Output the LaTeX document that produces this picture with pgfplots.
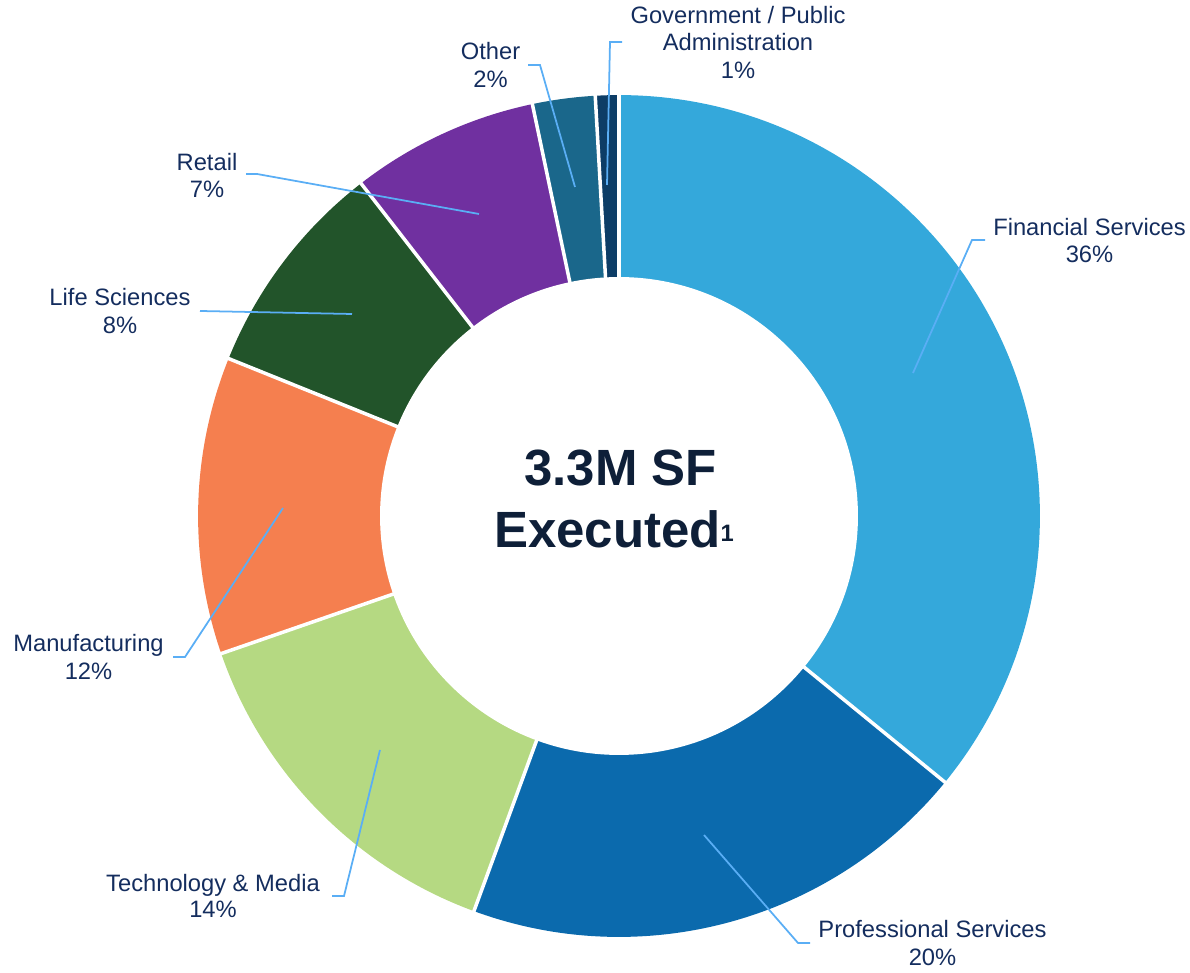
\documentclass[border=0pt]{standalone}
\usepackage{pgfplots}
\pgfplotsset{compat=1.18}
\usepackage{pgfplotstable}
\usepackage{fontspec}
\setmainfont{Liberation Sans}

\definecolor{c0}{HTML}{34A8DB} % Financial Services
\definecolor{c1}{HTML}{0B6AAD} % Professional Services
\definecolor{c2}{HTML}{B5D982} % Technology & Media
\definecolor{c3}{HTML}{F57F4F} % Manufacturing
\definecolor{c4}{HTML}{22542A} % Life Sciences
\definecolor{c5}{HTML}{7030A0} % Retail
\definecolor{c6}{HTML}{1A678B} % Other
\definecolor{c7}{HTML}{0D3D66} % Government / Public Administration
\definecolor{lblcol}{HTML}{142D5E}
\definecolor{ctr}{HTML}{0E1F38}
\definecolor{lead}{HTML}{5AAEF5}

% share of square feet, clockwise from 12 o'clock
\pgfplotstableread[col sep=comma]{
value
35.9
19.7
14.1
11.4
8.4
7.2
2.4
0.9
}\sectors

\def\rOut{8.42cm}
\def\rIn{4.78cm}

\tikzset{
    lbl/.style={font=\fontsize{13.5}{16}\selectfont, text=lblcol, inner sep=0pt, anchor=base},
    ctrtxt/.style={font=\fontsize{29}{35}\selectfont\bfseries, text=ctr, inner sep=0pt, anchor=base},
}

\begin{document}
\begin{tikzpicture}
\begin{axis}[
    x=0.02cm, y=0.02cm,
    xmin=-619, xmax=571,
    ymin=-454, ymax=516,
    hide axis,
    clip=false,
]
\path (axis cs:-619,-454) rectangle (axis cs:571,516);

% wedges
\def\cum{0}
\pgfplotsforeachungrouped \i in {0,...,7}{
    \pgfplotstablegetelem{\i}{value}\of\sectors
    \let\val\pgfplotsretval
    \pgfmathsetmacro\aStart{90-3.6*\cum}
    \pgfmathsetmacro\cumNew{\cum+\val}
    \pgfmathsetmacro\aEnd{90-3.6*\cumNew}
    \edef\temp{\noexpand\fill[c\i] (axis cs:0,0) -- ++(\aStart:\rOut)
        arc[start angle=\aStart, end angle=\aEnd, radius=\rOut] -- cycle;}
    \temp
    \let\cum\cumNew
}
% white separators
\def\cum{0}
\pgfplotsforeachungrouped \i in {0,...,7}{
    \pgfplotstablegetelem{\i}{value}\of\sectors
    \let\val\pgfplotsretval
    \pgfmathsetmacro\cumNew{\cum+\val}
    \pgfmathsetmacro\aEnd{90-3.6*\cumNew}
    \edef\temp{\noexpand\draw[white, line width=2pt] (axis cs:0,0) -- ++(\aEnd:8.6cm);}
    \temp
    \let\cum\cumNew
}
\fill[white] (axis cs:0,0) circle[radius=\rIn];

% leader lines
\addplot[lead, line width=1pt, no markers] coordinates {(294,143) (353,276) (366,276)};
\addplot[lead, line width=1pt, no markers] coordinates {(85,-319) (179,-427) (191,-427)};
\addplot[lead, line width=1pt, no markers] coordinates {(-239,-234) (-275,-380) (-287,-380)};
\addplot[lead, line width=1pt, no markers] coordinates {(-336,8) (-434,-141) (-446,-141)};
\addplot[lead, line width=1pt, no markers] coordinates {(-267,202) (-419,205)};
\addplot[lead, line width=1pt, no markers] coordinates {(-140,302) (-362,342) (-373,342)};
\addplot[lead, line width=1pt, no markers] coordinates {(-44,329) (-79,451) (-91,451)};
\addplot[lead, line width=1pt, no markers] coordinates {(-12,331) (-9,474) (3,474)};

% labels
\node[lbl] at (axis cs:470.5,280) {Financial Services};
\node[lbl] at (axis cs:470.5,253) {36\%};
\node[lbl] at (axis cs:313.5,-422) {Professional Services};
\node[lbl] at (axis cs:313.5,-450) {20\%};
\node[lbl] at (axis cs:-406,-376) {Technology \& Media};
\node[lbl] at (axis cs:-406,-402) {14\%};
\node[lbl] at (axis cs:-530.5,-136) {Manufacturing};
\node[lbl] at (axis cs:-530.5,-164) {12\%};
\node[lbl] at (axis cs:-499,210) {Life Sciences};
\node[lbl] at (axis cs:-499,182) {8\%};
\node[lbl] at (axis cs:-412,345) {Retail};
\node[lbl] at (axis cs:-412,318) {7\%};
\node[lbl] at (axis cs:-128.5,456) {Other};
\node[lbl] at (axis cs:-128.5,428) {2\%};
\node[lbl] at (axis cs:119,492) {Government / Public};
\node[lbl] at (axis cs:119,465) {Administration};
\node[lbl] at (axis cs:119,437) {1\%};

% centre
\node[ctrtxt] at (axis cs:1.5,30) {3.3M SF};
\node[ctrtxt] at (axis cs:-5,-32) {Executed\raisebox{0.12cm}{\fontsize{13.5}{14}\selectfont\bfseries 1}};
\end{axis}
\end{tikzpicture}
\end{document}
